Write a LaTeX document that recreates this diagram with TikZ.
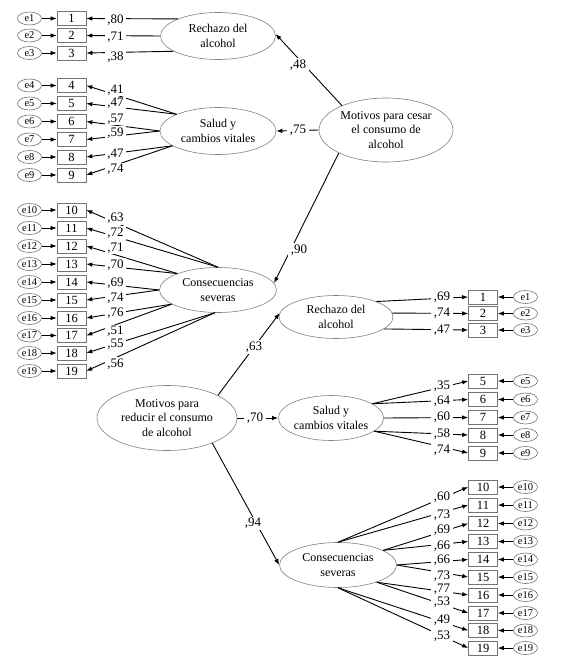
\documentclass[tikz,border=0pt]{standalone}
\usepackage{fontspec}
\setmainfont{Liberation Serif}
\usetikzlibrary{shapes.geometric,arrows.meta}
\begin{document}
\begin{tikzpicture}[x=1pt,y=-1pt,
  lat/.style={ellipse,draw=black!50,line width=0.6pt,inner sep=0pt,align=center,font=\fontsize{12}{14.5}\selectfont},
  obs/.style={rectangle,draw=black!55,line width=0.6pt,minimum width=29pt,minimum height=14pt,inner sep=0pt,font=\fontsize{12.5}{14}\selectfont},
  err/.style={ellipse,draw=black!55,line width=0.6pt,minimum width=24pt,minimum height=13pt,inner sep=0pt,font=\fontsize{10.5}{12}\selectfont},
  lab/.style={fill=white,inner xsep=2.5pt,inner ysep=1.2pt,font=\fontsize{13}{14}\selectfont},
  arr/.style={-{Latex[length=6pt,width=4.5pt]},line width=0.9pt}]
\useasboundingbox (0,0) rectangle (560,663);

% latent variables
\node[lat,minimum width=115pt,minimum height=47pt] (RechT) at (218,36) {Rechazo del\\alcohol};
\node[lat,minimum width=116pt,minimum height=47pt] (SaludT) at (218,131) {Salud y\\cambios vitales};
\node[lat,minimum width=117pt,minimum height=45pt] (ConsT) at (218,290) {Consecuencias\\severas};
\node[lat,minimum width=134pt,minimum height=64pt] (Cesar) at (386,130) {Motivos para cesar\\el consumo de\\alcohol};
\node[lat,minimum width=140pt,minimum height=65pt] (Reducir) at (167,418) {Motivos para\\reducir el consumo\\de alcohol};
\node[lat,minimum width=114pt,minimum height=43pt] (RechB) at (336,317) {Rechazo del\\alcohol};
\node[lat,minimum width=103pt,minimum height=45pt] (SaludB) at (331,418) {Salud y\\cambios vitales};
\node[lat,minimum width=117pt,minimum height=45pt] (ConsB) at (338,565) {Consecuencias\\severas};

% left indicators
\foreach \n/\y in {1/18.5,2/35.5,3/53,4/85.5,5/103.5,6/121.5,7/139.5,8/157,9/175,
  10/210,11/228,12/246,13/264,14/282,15/300,16/318,17/335.5,18/353,19/371}{
  \node[obs] (bL\n) at (71.5,\y) {\n};
  \node[err] (eL\n) at (29.5,\y) {e\n};
  \draw[arr] (eL\n) -- (bL\n);
}
% right indicators
\foreach \n/\y in {1/297,2/313.5,3/330,5/381,6/399.5,7/417.5,8/435,9/453,
  10/487,11/505,12/523.5,13/541.5,14/559.5,15/577,16/595,17/613,18/630.5,19/648}{
  \node[obs] (bR\n) at (483,\y) {\n};
  \node[err] (eR\n) at (525.5,\y) {e\n};
  \draw[arr] (eR\n) -- (bR\n);
}

% loadings left
\foreach \n/\a in {1/157,2/180,3/199}{\draw[arr] (RechT.\a) -- (bL\n.east);}
\foreach \n/\a in {4/158,5/158,6/180,7/180,8/198,9/198}{\draw[arr] (SaludT.\a) -- (bL\n.east);}
\foreach \n/\a in {10/90,11/90,12/158,13/158,14/180,15/180,16/197,17/197,18/262,19/262}{\draw[arr] (ConsT.\a) -- (bL\n.east);}
% loadings right
\foreach \n/\a in {1/21,2/4,3/346}{\draw[arr] (RechB.\a) -- (bR\n.west);}
\foreach \n/\a in {5/19,6/19,7/0,8/343,9/343}{\draw[arr] (SaludB.\a) -- (bR\n.west);}
\foreach \n/\a in {10/90,11/90,12/18,13/18,14/0,15/0,16/336,17/336,18/270,19/270}{\draw[arr] (ConsB.\a) -- (bR\n.west);}

% structural paths
\draw[arr] (Cesar.151) -- (RechT.2);
\draw[arr] (Cesar.west) -- (SaludT.east);
\draw[arr] (Cesar.206) -- (ConsT.7);
\draw[arr] (Reducir.24) -- (RechB.176);
\draw[arr] (Reducir.east) -- (SaludB.west);
\draw[arr] (Reducir.331) -- (ConsB.west);

% labels left
\foreach \t/\y [count=\i] in {80/20,71/37,38/57,41/90,47/103,57/119,59/133,47/154,74/169,
  63/218,72/233,71/248,70/265,69/283,74/298,76/313,51/331,55/344,56/364}{
  \node[lab] (lL\i) at (115.5,\y) {,\t};
}
% labels right
\foreach \t/\y [count=\i] in {69/297,74/313,47/330,35/386,64/401,60/417,58/434,74/450,
  60/497,73/515,69/530,66/546,66/560,73/576,77/589,53/602,49/620,53/636}{
  \node[lab] (lR\i) at (442,\y) {,\t};
}
% structural labels
\node[lab] (s1) at (298,65) {,48};
\node[lab] (s2) at (298,130) {,75};
\node[lab] (s3) at (299,250) {,90};
\node[lab] (s4) at (254,347) {,63};
\node[lab] (s5) at (255,418) {,70};
\node[lab] (s6) at (253,523) {,94};
\end{tikzpicture}
\end{document}
